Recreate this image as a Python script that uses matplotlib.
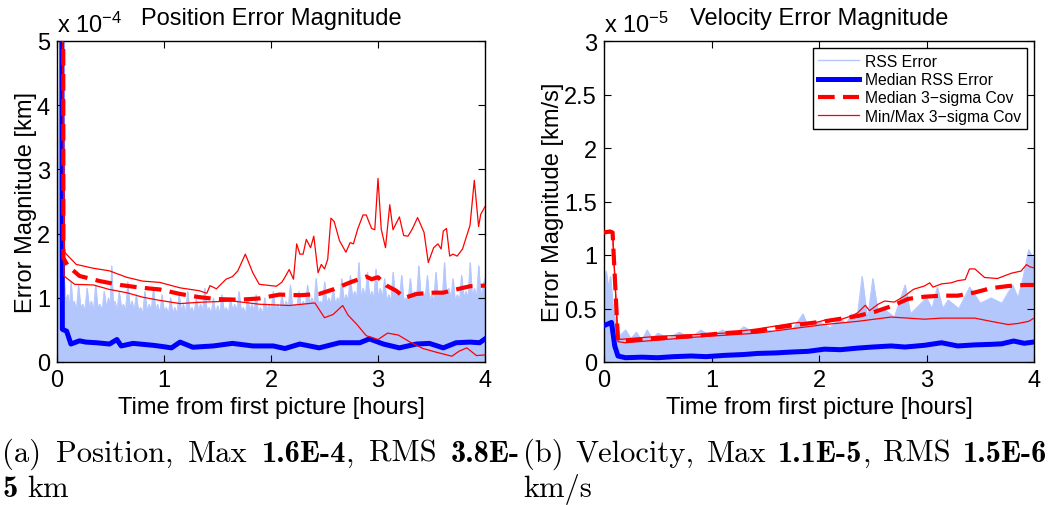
import matplotlib

matplotlib.use("Agg")
import matplotlib.pyplot as plt
import numpy as np

# ---- position panel (units of 1e-4 km), (hours, value) pairs
pos_max_cov = [(0.05, 6.0), (0.07, 1.71), (0.18, 1.52), (0.34, 1.46), (0.49, 1.42), (0.65, 1.32),
               (0.80, 1.26), (0.96, 1.24), (1.15, 1.155), (1.33, 1.11), (1.40, 1.07), (1.43, 1.19),
               (1.49, 1.14), (1.58, 1.29), (1.64, 1.33), (1.69, 1.42), (1.76, 1.68), (1.83, 1.39),
               (1.89, 1.21), (2.05, 1.18), (2.10, 1.24), (2.13, 1.32), (2.17, 1.44), (2.21, 1.29),
               (2.24, 1.84), (2.27, 1.68), (2.30, 1.68), (2.33, 1.91), (2.37, 1.78), (2.40, 1.96),
               (2.44, 1.39), (2.47, 1.52), (2.50, 1.45), (2.53, 1.60), (2.56, 2.24), (2.59, 2.19),
               (2.64, 1.89), (2.70, 1.71), (2.74, 1.86), (2.77, 1.84), (2.81, 2.07), (2.86, 2.29),
               (2.89, 2.29), (2.94, 2.08), (2.97, 2.06), (3.00, 2.86), (3.03, 2.07), (3.07, 1.78),
               (3.11, 2.45), (3.14, 2.06), (3.20, 2.26), (3.24, 1.97), (3.28, 1.96), (3.32, 2.07),
               (3.37, 2.25), (3.43, 2.02), (3.47, 1.55), (3.52, 1.78), (3.56, 1.84), (3.59, 1.76),
               (3.61, 2.04), (3.64, 2.08), (3.67, 1.65), (3.70, 1.68), (3.74, 1.65), (3.79, 1.76),
               (3.86, 2.13), (3.90, 2.83), (3.94, 2.11), (3.96, 2.30), (4.00, 2.42)]
pos_min_cov = [(0.05, 6.0), (0.065, 1.34), (0.165, 1.21), (0.34, 1.20), (0.49, 1.13), (0.65, 1.08),
               (0.80, 1.01), (0.96, 0.96), (1.15, 0.91), (1.33, 0.93), (1.64, 0.95), (1.89, 0.90),
               (2.17, 0.88), (2.41, 0.92), (2.50, 0.69), (2.58, 0.74), (2.67, 0.88), (2.72, 0.73),
               (2.80, 0.59), (2.89, 0.41), (3.00, 0.35), (3.09, 0.45), (3.19, 0.42), (3.30, 0.31),
               (3.42, 0.21), (3.55, 0.15), (3.69, 0.09), (3.76, 0.17), (3.83, 0.22), (3.92, 0.10),
               (4.00, 0.11)]
pos_med_cov = [(0.058, 6.0), (0.06, 1.62), (0.10, 1.50), (0.21, 1.34), (0.40, 1.26), (0.59, 1.20),
               (0.77, 1.16), (0.96, 1.13), (1.15, 1.06), (1.33, 1.01), (1.49, 0.98), (1.71, 0.97),
               (1.89, 0.99), (2.08, 1.05), (2.27, 1.04), (2.45, 1.06), (2.58, 1.13), (2.74, 1.24),
               (2.89, 1.33), (2.94, 1.29), (3.00, 1.32), (3.08, 1.19), (3.17, 1.11), (3.25, 1.00),
               (3.36, 1.06), (3.52, 1.08), (3.61, 1.08), (3.73, 1.13), (3.86, 1.18), (4.00, 1.19)]
pos_med_err = [(0.045, 6.0), (0.05, 0.51), (0.09, 0.48), (0.13, 0.28), (0.21, 0.33), (0.27, 0.31),
               (0.37, 0.30), (0.49, 0.28), (0.56, 0.35), (0.60, 0.25), (0.71, 0.29), (0.90, 0.26),
               (0.99, 0.24), (1.07, 0.22), (1.15, 0.31), (1.27, 0.23), (1.46, 0.25), (1.64, 0.29),
               (1.83, 0.25), (2.02, 0.25), (2.13, 0.21), (2.27, 0.28), (2.45, 0.22), (2.64, 0.30),
               (2.83, 0.30), (2.92, 0.36), (3.05, 0.28), (3.20, 0.22), (3.36, 0.28), (3.48, 0.29),
               (3.61, 0.22), (3.73, 0.30), (3.86, 0.31), (3.95, 0.30), (4.00, 0.36)]
# top edge of the cloud of individual RSS error runs
pos_rss_top = [(0.0, 0.5), (0.03, 6.0), (0.05, 6.0), (0.065, 1.35), (0.08, 0.95), (0.10, 1.05),
               (0.115, 0.85), (0.13, 1.25), (0.145, 0.9), (0.16, 0.95), (0.18, 0.8), (0.20, 1.2),
               (0.22, 0.85), (0.24, 0.9), (0.26, 0.8), (0.28, 1.15), (0.30, 0.85), (0.32, 0.95),
               (0.34, 0.8), (0.36, 1.2), (0.38, 0.85), (0.40, 0.9), (0.42, 0.8), (0.44, 1.1),
               (0.46, 0.85), (0.48, 1.0), (0.495, 0.85), (0.51, 1.5), (0.525, 0.85), (0.54, 0.95),
               (0.56, 0.8), (0.58, 1.1), (0.60, 0.85), (0.62, 0.9), (0.64, 0.8), (0.66, 1.25),
               (0.68, 0.85), (0.70, 0.95), (0.72, 0.8), (0.74, 1.05), (0.76, 0.8), (0.78, 0.85),
               (0.80, 0.75), (0.82, 1.1), (0.84, 0.8), (0.86, 0.9), (0.88, 0.8), (0.90, 1.15),
               (0.92, 0.8), (0.94, 0.9), (0.96, 0.75), (0.98, 1.05), (1.00, 0.8), (1.02, 0.85),
               (1.04, 0.75), (1.06, 1.0), (1.08, 0.75), (1.10, 0.85), (1.12, 0.75), (1.14, 1.05),
               (1.16, 0.8), (1.18, 0.9), (1.20, 0.75), (1.22, 1.1), (1.24, 0.8), (1.26, 0.85),
               (1.28, 0.75), (1.30, 1.0), (1.32, 0.8), (1.34, 0.9), (1.36, 0.8), (1.38, 1.15),
               (1.40, 0.8), (1.42, 0.85), (1.44, 0.75), (1.46, 1.0), (1.48, 0.75), (1.50, 0.88),
               (1.52, 0.75), (1.54, 1.05), (1.56, 0.8), (1.58, 0.85), (1.60, 0.75), (1.62, 1.0),
               (1.64, 0.8), (1.66, 0.9), (1.68, 0.8), (1.70, 1.1), (1.72, 0.8), (1.74, 0.85),
               (1.76, 0.75), (1.78, 1.0), (1.80, 0.8), (1.82, 0.9), (1.84, 0.8), (1.86, 1.05),
               (1.88, 0.75), (1.90, 0.85), (1.92, 0.75), (1.94, 1.0), (1.96, 0.8), (1.98, 0.9),
               (2.00, 0.8), (2.02, 1.1), (2.04, 0.8), (2.06, 0.9), (2.08, 0.8), (2.10, 1.05),
               (2.12, 0.85), (2.14, 0.95), (2.16, 0.85), (2.18, 1.2), (2.20, 0.85), (2.22, 0.9),
               (2.24, 0.85), (2.26, 1.1), (2.28, 0.85), (2.30, 0.95), (2.32, 0.85), (2.34, 1.2),
               (2.36, 0.9), (2.38, 1.0), (2.40, 0.9), (2.42, 1.3), (2.44, 0.9), (2.46, 0.95),
               (2.48, 0.9), (2.50, 1.25), (2.52, 0.9), (2.54, 1.0), (2.56, 0.9), (2.58, 1.15),
               (2.60, 0.9), (2.62, 1.0), (2.64, 0.95), (2.66, 1.3), (2.68, 0.95), (2.70, 1.05),
               (2.72, 0.95), (2.74, 1.35), (2.76, 1.0), (2.78, 1.1), (2.80, 1.0), (2.82, 1.55),
               (2.84, 1.0), (2.86, 1.15), (2.88, 1.0), (2.90, 1.4), (2.92, 1.0), (2.94, 1.1),
               (2.96, 1.0), (2.98, 1.45), (3.00, 1.0), (3.02, 1.15), (3.04, 1.0), (3.06, 1.3),
               (3.08, 0.95), (3.10, 1.05), (3.12, 0.95), (3.14, 1.4), (3.16, 1.0), (3.18, 1.1),
               (3.20, 1.0), (3.22, 1.35), (3.24, 0.95), (3.26, 1.0), (3.28, 0.95), (3.30, 1.3),
               (3.32, 1.0), (3.34, 1.1), (3.36, 1.0), (3.38, 1.5), (3.40, 1.0), (3.42, 1.1),
               (3.44, 1.0), (3.46, 1.35), (3.48, 0.95), (3.50, 1.05), (3.52, 0.95), (3.54, 1.4),
               (3.56, 1.0), (3.58, 1.1), (3.60, 1.0), (3.62, 1.55), (3.64, 1.0), (3.66, 1.15),
               (3.68, 1.0), (3.70, 1.3), (3.72, 0.95), (3.74, 1.05), (3.76, 0.95), (3.78, 1.35),
               (3.80, 1.0), (3.82, 1.1), (3.84, 1.0), (3.86, 1.55), (3.88, 1.0), (3.90, 1.15),
               (3.92, 1.0), (3.94, 1.5), (3.96, 1.0), (3.98, 1.2), (4.00, 1.3)]

# ---- velocity panel (units of 1e-5 km/s)
vel_max_cov = [(0.0, 1.21), (0.055, 1.22), (0.08, 1.21), (0.13, 0.21), (0.5, 0.24), (1.12, 0.27),
               (1.43, 0.31), (1.62, 0.34), (1.74, 0.36), (1.81, 0.37), (1.90, 0.35), (2.05, 0.39),
               (2.21, 0.40), (2.30, 0.43), (2.36, 0.46), (2.43, 0.53), (2.47, 0.48), (2.55, 0.54),
               (2.61, 0.57), (2.70, 0.56), (2.80, 0.62), (2.88, 0.68), (2.98, 0.71), (3.03, 0.74),
               (3.06, 0.70), (3.14, 0.73), (3.23, 0.74), (3.29, 0.76), (3.36, 0.77), (3.40, 0.87),
               (3.45, 0.87), (3.54, 0.79), (3.66, 0.78), (3.79, 0.83), (3.88, 0.85), (3.93, 0.91),
               (3.96, 0.89), (4.00, 0.88)]
vel_min_cov = [(0.0, 1.2), (0.055, 1.21), (0.08, 1.2), (0.13, 0.19), (0.2, 0.18), (0.81, 0.23),
               (1.43, 0.27), (2.05, 0.35), (2.36, 0.38), (2.67, 0.42), (2.83, 0.41), (2.98, 0.40),
               (3.14, 0.41), (3.29, 0.41), (3.45, 0.41), (3.60, 0.38), (3.76, 0.35), (3.85, 0.36),
               (3.95, 0.38), (4.00, 0.41)]
vel_med_cov = [(0.0, 1.21), (0.055, 1.22), (0.08, 1.21), (0.13, 0.20), (0.2, 0.20), (0.5, 0.22),
               (0.81, 0.24), (1.12, 0.27), (1.43, 0.29), (1.59, 0.32), (1.74, 0.34), (2.05, 0.38),
               (2.36, 0.43), (2.52, 0.47), (2.67, 0.52), (2.83, 0.59), (2.98, 0.61), (3.14, 0.62),
               (3.29, 0.62), (3.45, 0.65), (3.60, 0.69), (3.76, 0.71), (3.91, 0.72), (4.00, 0.72)]
vel_med_err = [(0.0, 0.34), (0.07, 0.37), (0.10, 0.15), (0.13, 0.056), (0.2, 0.04), (0.35, 0.045),
               (0.5, 0.04), (0.65, 0.05), (0.81, 0.056), (0.95, 0.05), (1.12, 0.062), (1.3, 0.07),
               (1.43, 0.08), (1.6, 0.085), (1.74, 0.093), (1.9, 0.1), (2.05, 0.12), (2.2, 0.115),
               (2.36, 0.13), (2.5, 0.14), (2.67, 0.15), (2.8, 0.14), (2.98, 0.156), (3.14, 0.18),
               (3.29, 0.15), (3.45, 0.16), (3.60, 0.165), (3.70, 0.17), (3.81, 0.196), (3.91, 0.175),
               (4.00, 0.187)]
vel_rss_top = [(0.0, 0.75), (0.02, 0.85), (0.04, 0.7), (0.06, 0.8), (0.08, 0.55), (0.11, 0.35),
               (0.15, 0.25), (0.2, 0.3), (0.25, 0.22), (0.3, 0.28), (0.35, 0.2), (0.4, 0.3),
               (0.45, 0.22), (0.5, 0.27), (0.6, 0.22), (0.7, 0.28), (0.8, 0.22), (0.9, 0.3),
               (1.0, 0.24), (1.1, 0.3), (1.2, 0.25), (1.3, 0.33), (1.4, 0.27), (1.5, 0.3),
               (1.6, 0.28), (1.7, 0.35), (1.75, 0.3), (1.85, 0.45), (1.9, 0.32), (2.0, 0.38),
               (2.1, 0.32), (2.2, 0.42), (2.25, 0.35), (2.3, 0.45), (2.35, 0.38), (2.4, 0.8),
               (2.45, 0.4), (2.5, 0.78), (2.55, 0.45), (2.6, 0.5), (2.7, 0.42), (2.8, 0.72),
               (2.85, 0.45), (2.9, 0.5), (3.0, 0.6), (3.05, 0.5), (3.1, 0.7), (3.15, 0.5),
               (3.2, 0.58), (3.3, 0.5), (3.4, 0.7), (3.5, 0.55), (3.6, 0.6), (3.7, 0.55),
               (3.8, 0.72), (3.85, 0.6), (3.9, 0.8), (3.95, 1.05), (4.00, 0.95)]

LEGEND = ["RSS Error", "Median RSS Error", "Median 3\u2212sigma Cov", "Min/Max 3\u2212sigma Cov"]

CAP_A1 = [[("(a)", 0)], [("Position,", 0)], [("Max", 0)], [("1.6E-4", 1), (",", 0)],
          [("RMS", 0)], [("3.8E-", 1)]]
CAP_A2 = [[("5", 1)], [("km", 0)]]
CAP_B1 = [[("(b)", 0)], [("Velocity,", 0)], [("Max", 0)], [("1.1E-5", 1), (",", 0)],
          [("RMS", 0)], [("1.5E-6", 1)]]
CAP_B2 = [[("km/s", 0)]]

CLOUD = "#b4c7fd"
FS = 17
CAP_FS = 22

plt.rcParams["font.family"] = ["Liberation Sans", "DejaVu Sans"]
plt.rcParams["mathtext.fontset"] = "custom"
plt.rcParams["mathtext.rm"] = "Liberation Sans"
plt.rcParams["mathtext.it"] = "Liberation Sans:italic"

W, H = 1050, 506
fig = plt.figure(figsize=(W / 100, H / 100), dpi=100)


def xy(pairs):
    a = np.array(pairs, dtype=float)
    return a[:, 0], a[:, 1]


def panel(rect, top, med_err, med_cov, max_cov, min_cov, ymax, yticks, exp, title, ylabel):
    ax = fig.add_axes(rect)
    t, v = xy(top)
    ax.fill_between(t, 0, v, color=CLOUD, lw=0.6, zorder=1)
    ax.plot(t, v, color=CLOUD, lw=0.6, zorder=1)
    t, v = xy(med_err)
    ax.plot(t, v, color="#0000ff", lw=3.6, zorder=3, solid_joinstyle="round")
    t, v = xy(max_cov)
    ax.plot(t, v, color="#ff0000", lw=0.9, zorder=4)
    t, v = xy(min_cov)
    ax.plot(t, v, color="#ff0000", lw=0.9, zorder=4)
    t, v = xy(med_cov)
    ax.plot(t, v, color="#ff0000", lw=3.0, ls=(0, (4, 2)), zorder=5)
    ax.set_xlim(0, 4)
    ax.set_ylim(0, ymax)
    ax.set_xticks([0, 1, 2, 3, 4])
    ax.set_yticks(yticks)
    ax.set_yticklabels([f"{y:g}" for y in yticks])
    ax.tick_params(direction="in", length=5, width=0.8, labelsize=FS, top=True, right=True, pad=5)
    for s in ax.spines.values():
        s.set_linewidth(1.0)
    ax.set_xlabel("Time from first picture [hours]", fontsize=FS, labelpad=4)
    ax.set_ylabel(ylabel, fontsize=FS, labelpad=0)
    ax.set_title(title, fontsize=FS, pad=12)
    ax.text(0.0, 1.012, "x 10$^{-" + exp + "}$", transform=ax.transAxes,
            fontsize=FS, ha="left", va="bottom")
    return ax


ax1 = panel([57 / W, 1 - 363 / H, 428 / W, 321 / H], pos_rss_top, pos_med_err, pos_med_cov,
            pos_max_cov, pos_min_cov, 5, [0, 1, 2, 3, 4, 5], "4",
            "Position Error Magnitude", "Error Magnitude [km]")
ax2 = panel([604 / W, 1 - 363 / H, 430 / W, 321 / H], vel_rss_top, vel_med_err, vel_med_cov,
            vel_max_cov, vel_min_cov, 3, [0, 0.5, 1, 1.5, 2, 2.5, 3], "5",
            "Velocity Error Magnitude", "Error Magnitude [km/s]")

handles = [
    plt.Line2D([], [], color=CLOUD, lw=1.0),
    plt.Line2D([], [], color="#0000ff", lw=3.6),
    plt.Line2D([], [], color="#ff0000", lw=3.0, ls=(0, (4, 2))),
    plt.Line2D([], [], color="#ff0000", lw=0.9),
]
leg = ax2.legend(handles, LEGEND, loc="upper right", fontsize=11.3, frameon=True, fancybox=False,
                 edgecolor="black", framealpha=1, borderaxespad=0.45, handlelength=2.6,
                 labelspacing=0.22, borderpad=0.35, handletextpad=0.4)
leg.get_frame().set_linewidth(1.0)
leg.set_zorder(10)


def caption(x0, x1, ybase, words, justify):
    r = fig.canvas.get_renderer()
    arts = []
    for w in words:
        parts = []
        for s, b in w:
            parts.append(fig.text(0, ybase / H, s, fontsize=CAP_FS, va="baseline",
                                  family="cmb10" if b else "cmr10"))
        arts.append(parts)
    widths = [[p.get_window_extent(r).width for p in parts] for parts in arts]
    total = sum(sum(ws) for ws in widths)
    gap = CAP_FS * 1.389 * 0.33
    if justify and len(arts) > 1:
        gap = (x1 - x0 - total) / (len(arts) - 1)
    x = x0
    for parts, ws in zip(arts, widths):
        for p, wd in zip(parts, ws):
            p.set_x(x / W)
            x += wd
        x += gap


fig.canvas.draw()
caption(2, 520, H - 462, CAP_A1, True)
caption(2, 520, H - 497, CAP_A2, False)
caption(523, 1047, H - 462, CAP_B1, True)
caption(523, 1047, H - 497, CAP_B2, False)

fig.savefig("out.png", dpi=100)
